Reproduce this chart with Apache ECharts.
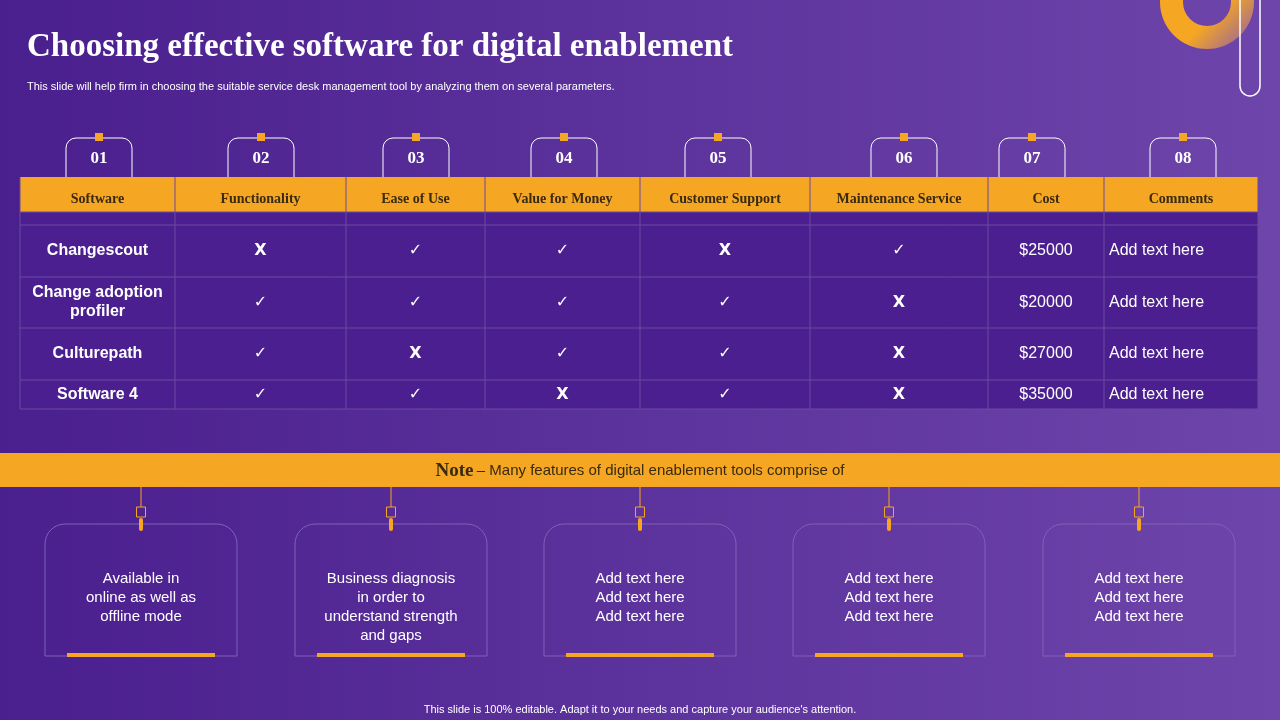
<!DOCTYPE html>
<html><head><meta charset="utf-8">
<script src="https://cdn.jsdelivr.net/npm/echarts@6/dist/echarts.min.js"></script>
<style>html,body{margin:0;padding:0;}#main{width:1280px;height:720px;}</style>
</head><body><div id="main"></div>
<script>
var headers = ['Software', 'Functionality', 'Ease of Use', 'Value for Money', 'Customer Support', 'Maintenance Service', 'Cost', 'Comments'];
var numbers = ['01', '02', '03', '04', '05', '06', '07', '08'];
var software = ['Changescout', 'Change adoption\nprofiler', 'Culturepath', 'Software 4'];
var functionality = ['X', '✓', '✓', '✓'];
var easeOfUse = ['✓', '✓', 'X', '✓'];
var valueForMoney = ['✓', '✓', '✓', 'X'];
var customerSupport = ['X', '✓', '✓', '✓'];
var maintenance = ['✓', 'X', 'X', 'X'];
var cost = ['$25000', '$20000', '$27000', '$35000'];
var comments = ['Add text here', 'Add text here', 'Add text here', 'Add text here'];
var features = ['Available in\nonline as well as\noffline mode', 'Business diagnosis\nin order to\nunderstand strength\nand gaps',
  'Add text here\nAdd text here\nAdd text here', 'Add text here\nAdd text here\nAdd text here', 'Add text here\nAdd text here\nAdd text here'];

var ORANGE = '#f5a623';
var colX = [20, 175, 346, 485, 640, 810, 988, 1104, 1258];
var tabX = [99, 261, 416, 564, 718, 904, 1032, 1183];
var rowY = [225, 277, 328, 380, 409];
var columns = [software, functionality, easeOfUse, valueForMoney, customerSupport, maintenance, cost, comments];

var g = [];

// open-bottom box with rounded top corners, built from lines and arcs
function topRounded(l, r, top, bottom, rad, color) {
  var st = {stroke: color, lineWidth: 1, fill: 'none'};
  g.push({type: 'line', shape: {x1: l, y1: bottom, x2: l, y2: top + rad}, style: st});
  g.push({type: 'line', shape: {x1: r, y1: bottom, x2: r, y2: top + rad}, style: st});
  g.push({type: 'line', shape: {x1: l + rad, y1: top, x2: r - rad, y2: top}, style: st});
  g.push({type: 'arc', shape: {cx: l + rad, cy: top + rad, r: rad, startAngle: Math.PI, endAngle: Math.PI * 1.5}, style: st});
  g.push({type: 'arc', shape: {cx: r - rad, cy: top + rad, r: rad, startAngle: Math.PI * 1.5, endAngle: Math.PI * 2}, style: st});
}

// background
g.push({type: 'rect', shape: {x: 0, y: 0, width: 1280, height: 720}, z: 0,
  style: {fill: new echarts.graphic.LinearGradient(0, 0, 1, 0, [{offset: 0, color: '#4a1f8e'}, {offset: 1, color: '#6e45aa'}])}});
// decoration
g.push({type: 'ring', shape: {cx: 1207, cy: 2, r: 47, r0: 24}, style: {fill: new echarts.graphic.LinearGradient(0, 0, 1, 1, [{offset: 0, color: ORANGE}, {offset: 0.6, color: ORANGE}, {offset: 1, color: '#8a5ab0'}])}});
g.push({type: 'rect', shape: {x: 1240, y: -30, width: 20, height: 126, r: 10}, style: {fill: 'none', stroke: '#ffffff', lineWidth: 1.5}});
// title
g.push({type: 'text', x: 27, y: 47, style: {text: 'Choosing effective software for digital enablement', font: 'bold 33px "Liberation Serif", serif', fill: '#fff', verticalAlign: 'middle'}});
g.push({type: 'text', x: 27, y: 87, style: {text: 'This slide will help firm in choosing the suitable service desk management tool by analyzing them on several parameters.', font: '11px "Liberation Sans", Arial, sans-serif', fill: '#fff', verticalAlign: 'middle'}});

// number tabs
tabX.forEach(function (cx, i) {
  topRounded(cx - 33, cx + 33, 138, 177, 10, '#ffffff');
  g.push({type: 'rect', shape: {x: cx - 4, y: 133, width: 8, height: 8}, style: {fill: ORANGE}});
  g.push({type: 'text', x: cx, y: 159, style: {text: numbers[i], font: 'bold 17px "Liberation Serif", serif', fill: '#fff', align: 'center', verticalAlign: 'middle'}});
});

// header
g.push({type: 'rect', shape: {x: 20, y: 177, width: 1238, height: 35}, style: {fill: ORANGE}});
headers.forEach(function (h, i) {
  g.push({type: 'text', x: (colX[i] + colX[i + 1]) / 2, y: 199, style: {text: h, font: 'bold 14px "Liberation Serif", serif', fill: '#3a2a10', align: 'center', verticalAlign: 'middle'}});
});
g.push({type: 'rect', shape: {x: 20, y: 212, width: 1238, height: 197}, style: {fill: '#4b1f8f'}});
// grid lines
for (var i = 0; i < colX.length; i++) {
  g.push({type: 'line', shape: {x1: colX[i], y1: 177, x2: colX[i], y2: 409}, style: {stroke: '#6a4b9e', lineWidth: 1}});
}
[212, 225, 277, 328, 380, 409].forEach(function (y) {
  g.push({type: 'line', shape: {x1: 20, y1: y, x2: 1258, y2: y}, style: {stroke: '#6a4b9e', lineWidth: 1}});
});
// cells
columns.forEach(function (col, c) {
  col.forEach(function (v, r) {
    var cy = (rowY[r] + rowY[r + 1]) / 2;
    var left = c === 7;
    var font = c === 0 ? 'bold 16px "Liberation Sans", Arial, sans-serif' :
      (c >= 6 ? '16px "Liberation Sans", Arial, sans-serif' : 'bold 16px "DejaVu Sans", sans-serif');
    g.push({type: 'text', x: left ? colX[c] + 5 : (colX[c] + colX[c + 1]) / 2, y: cy,
      style: {text: v, font: font, fill: '#fff', align: left ? 'left' : 'center', verticalAlign: 'middle', lineHeight: 19}});
  });
});

// note bar
g.push({type: 'rect', shape: {x: 0, y: 453, width: 1280, height: 34}, style: {fill: ORANGE}});
g.push({type: 'text', x: 640, y: 471, style: {
  text: '{b|Note} {n|– Many features of digital enablement tools comprise of}', align: 'center', verticalAlign: 'middle',
  rich: {b: {font: 'bold 19px "Liberation Serif", serif', fill: '#3a2a10'}, n: {font: '15px "Liberation Sans", Arial, sans-serif', fill: '#3a2a10'}}}});

// feature cards
var cardX = [141, 391, 640, 889, 1139];
cardX.forEach(function (cx, i) {
  var l = cx - 96, r = cx + 96;
  topRounded(l, r, 524, 656, 20, '#8060b8');
  g.push({type: 'line', shape: {x1: l, y1: 656, x2: r, y2: 656}, style: {stroke: '#8060b8', lineWidth: 1}});
  g.push({type: 'line', shape: {x1: cx - 74, y1: 655, x2: cx + 74, y2: 655}, style: {stroke: ORANGE, lineWidth: 4}});
  g.push({type: 'line', shape: {x1: cx, y1: 487, x2: cx, y2: 507}, style: {stroke: ORANGE, lineWidth: 1}});
  g.push({type: 'rect', shape: {x: cx - 4.5, y: 507, width: 9, height: 10}, style: {fill: 'none', stroke: ORANGE, lineWidth: 1}});
  g.push({type: 'rect', shape: {x: cx - 2, y: 518, width: 4, height: 13, r: 2}, style: {fill: ORANGE}});
  g.push({type: 'text', x: cx, y: 569, style: {text: features[i], font: '15px "Liberation Sans", Arial, sans-serif', fill: '#ffffff', align: 'center', verticalAlign: 'top', lineHeight: 19}});
});

g.push({type: 'text', x: 640, y: 710, style: {text: "This slide is 100% editable. Adapt it to your needs and capture your audience's attention.", font: '11px "Liberation Sans", Arial, sans-serif', fill: '#fff', align: 'center', verticalAlign: 'middle'}});

var chart = echarts.init(document.getElementById('main'));
chart.setOption({animation: false, graphic: {elements: g}});
</script>
</body></html>
